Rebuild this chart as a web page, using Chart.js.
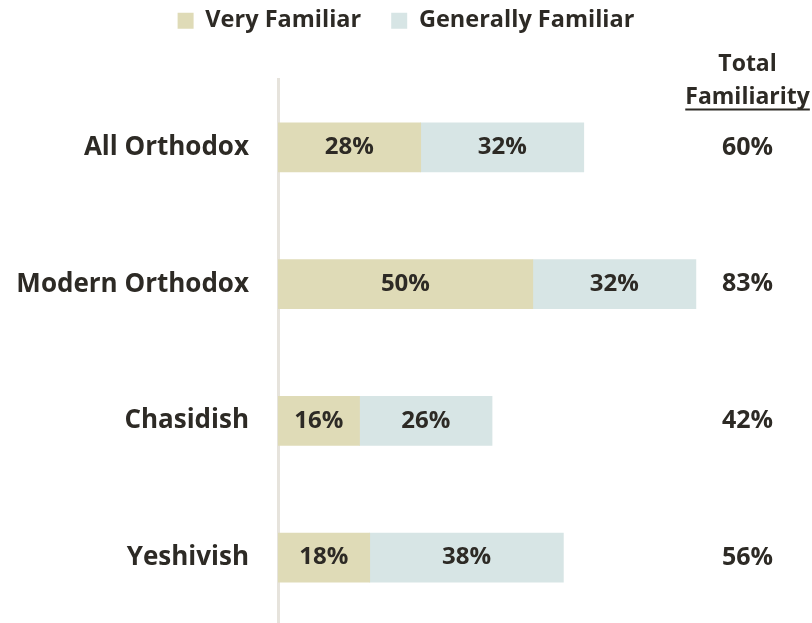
<!DOCTYPE html>
<html>
<head>
<meta charset="utf-8">
<script src="https://cdn.jsdelivr.net/npm/chart.js@4"></script>
<style>
  html, body { margin: 0; padding: 0; background: #fff; overflow: hidden; }
</style>
</head>
<body>
<canvas id="mycanvas" width="812" height="626"></canvas>
<script>
var groups = ["All Orthodox", "Modern Orthodox", "Chasidish", "Yeshivish"];
var veryFamiliar = [28, 50, 16, 18];
var generallyFamiliar = [32, 32, 26, 38];
var totals = ["60%", "83%", "42%", "56%"];

var textColor = "#2d2a25";
var font = "'Open Sans'";

// extra room under the legend so the plot starts lower
var legendSpace = {
    id: "legendSpace",
    beforeInit: function(chart) {
        var fit = chart.legend.fit;
        chart.legend.fit = function() {
            fit.call(this);
            this.height = 100;
        };
    }
};

// percent labels inside the bars
var barLabels = {
    id: "barLabels",
    afterDatasetsDraw: function(chart) {
        var ctx = chart.ctx;
        ctx.save();
        ctx.font = "bold 24px " + font;
        ctx.fillStyle = textColor;
        ctx.textAlign = "center";
        ctx.textBaseline = "middle";
        chart.data.datasets.forEach(function(ds, i) {
            chart.getDatasetMeta(i).data.forEach(function(bar, j) {
                var p = bar.getCenterPoint();
                ctx.fillText(ds.data[j] + "%", p.x, p.y);
            });
        });
        ctx.restore();
    }
};

// "Total Familiarity" header over the totals column
var totalHeader = {
    id: "totalHeader",
    afterDraw: function(chart) {
        var ctx = chart.ctx;
        var s = chart.scales.y2;
        ctx.save();
        ctx.font = "bold 25px " + font;
        var cx = s.left + s.options.ticks.padding + ctx.measureText(totals[0]).width / 2;
        ctx.font = "bold 23px " + font;
        ctx.fillStyle = textColor;
        ctx.textAlign = "center";
        ctx.textBaseline = "alphabetic";
        ctx.fillText("Total", cx, 71);
        ctx.fillText("Familiarity", cx, 104);
        var w = ctx.measureText("Familiarity").width;
        ctx.fillRect(cx - w / 2, 108.5, w, 2);
        ctx.restore();
    }
};

function fixAxis(width) {
    return function(scale) {
        scale.width = width;
        scale.paddingTop = 0;
        scale.paddingBottom = 0;
    };
}

var ctx = document.getElementById("mycanvas");

var chart = new Chart(ctx, {
    type: "bar",
    data: {
        labels: groups,
        datasets: [
            {
                label: "Very Familiar",
                data: veryFamiliar,
                backgroundColor: "#dfdbb7",
                barThickness: 49
            },
            {
                label: "Generally Familiar",
                data: generallyFamiliar,
                backgroundColor: "#d7e5e5",
                barThickness: 49
            }
        ]
    },
    options: {
        indexAxis: "y",
        responsive: false,
        animation: false,
        layout: { padding: { top: -21, left: 0, right: 0, bottom: 0 } },
        plugins: {
            tooltip: { enabled: false },
            legend: {
                position: "top",
                labels: {
                    color: textColor,
                    font: { family: font, size: 23.5, weight: "bold" },
                    boxWidth: 16,
                    boxHeight: 16,
                    padding: 30
                }
            }
        },
        scales: {
            x: {
                stacked: true,
                display: false,
                min: 0,
                max: 83
            },
            y: {
                stacked: true,
                grid: { display: false, drawTicks: false },
                border: { display: true, color: "#e6e3dc", width: 3 },
                ticks: {
                    color: textColor,
                    padding: 29,
                    font: { family: font, size: 26, weight: "bold" }
                },
                afterFit: fixAxis(278)
            },
            y2: {
                axis: "y",
                type: "category",
                position: "right",
                labels: totals,
                offset: true,
                grid: { display: false, drawTicks: false },
                border: { display: false },
                ticks: {
                    color: textColor,
                    padding: 21,
                    font: { family: font, size: 25, weight: "bold" }
                },
                afterFit: fixAxis(111)
            }
        }
    },
    plugins: [legendSpace, barLabels, totalHeader]
});
</script>
</body>
</html>
